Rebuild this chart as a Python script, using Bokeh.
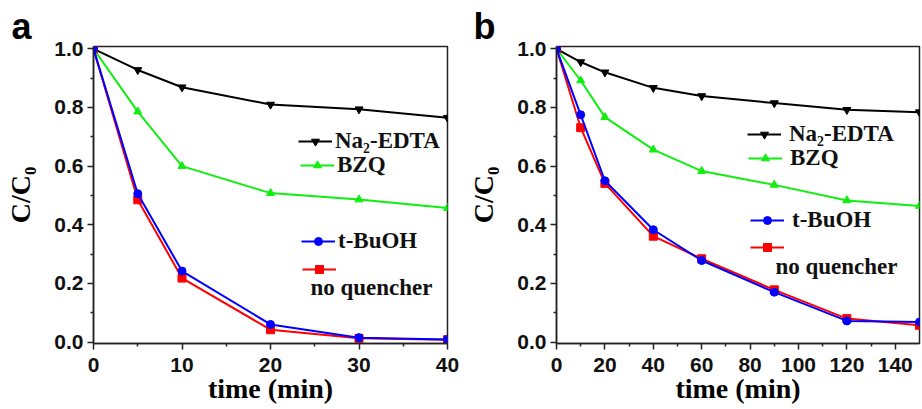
from bokeh.plotting import figure
from bokeh.layouts import row
from bokeh.models import Legend, LegendItem, Label, FixedTicker, PrintfTickFormatter, Range1d
from bokeh.embed import file_html
from bokeh.resources import INLINE

# ---------------- data ----------------
time_a = [0, 5, 10, 20, 30, 40]
edta_a = [1.0, 0.928, 0.869, 0.81, 0.794, 0.765]
bzq_a = [1.0, 0.786, 0.60, 0.508, 0.486, 0.457]
tbuoh_a = [1.0, 0.506, 0.242, 0.06, 0.015, 0.009]
noq_a = [1.0, 0.485, 0.218, 0.042, 0.0125, 0.008]

time_b = [0, 10, 20, 40, 60, 90, 120, 150]
edta_b = [1.0, 0.955, 0.92, 0.867, 0.839, 0.815, 0.792, 0.784]
bzq_b = [1.0, 0.892, 0.767, 0.656, 0.583, 0.536, 0.483, 0.464]
tbuoh_b = [1.0, 0.775, 0.55, 0.383, 0.278, 0.17, 0.072, 0.068]
noq_b = [1.0, 0.731, 0.541, 0.361, 0.284, 0.178, 0.08, 0.057]

series_names = ["Na\u2082-EDTA", "BZQ", "t-BuOH", "no quencher"]
series_colors = ["#000000", "#10ee10", "#0000ff", "#ff0000"]
series_markers = ["inverted_triangle", "triangle", "circle", "square"]

y_ticks = [0.0, 0.2, 0.4, 0.6, 0.8, 1.0]
y_minor = [0.1, 0.3, 0.5, 0.7, 0.9]
x_ticks_a = [0, 10, 20, 30, 40]
x_minor_a = [5, 15, 25, 35]
x_ticks_b = [0, 20, 40, 60, 80, 100, 120, 140]
x_minor_b = [10, 30, 50, 70, 90, 110, 130]

SERIF = "Liberation Serif"
SANS = "Liberation Sans"
FIG_H = 408


def make_panel(t, ys, xr, xticks, xminor, width, bl, br, letter,
               leg_xy, leg_standoff, noq_xy, letter_off):
    p = figure(width=width, height=FIG_H, x_range=Range1d(*xr),
               y_range=Range1d(-0.005, 1.008), output_backend="svg",
               toolbar_location=None, min_border_left=bl, min_border_right=br,
               min_border_top=46, min_border_bottom=65,
               background_fill_color="white", border_fill_color="white")
    p.title.text = letter
    p.title.align = "left"
    p.title.offset = letter_off
    p.title.standoff = 0
    p.title.text_font = SANS
    p.title.text_font_style = "bold"
    p.title.text_font_size = "36px"
    p.title.text_color = "#000000"

    p.xgrid.visible = False
    p.ygrid.visible = False
    p.outline_line_color = "#222222"
    p.outline_line_width = 1.5
    p.outline_line_alpha = 1.0

    p.xaxis.axis_label = "time (min)"
    p.yaxis.axis_label = "C/C\u2080"
    p.xaxis.ticker = FixedTicker(ticks=xticks, minor_ticks=xminor)
    p.yaxis.ticker = FixedTicker(ticks=y_ticks, minor_ticks=y_minor)
    p.yaxis.formatter = PrintfTickFormatter(format="%.1f")
    for ax in (p.xaxis[0], p.yaxis[0]):
        ax.axis_line_color = "#222222"
        ax.axis_line_width = 1.5
        ax.major_tick_in = 0
        ax.major_tick_out = 6
        ax.minor_tick_in = 0
        ax.minor_tick_out = 3
        ax.major_tick_line_width = 1.5
        ax.minor_tick_line_width = 1.5
        ax.major_tick_line_color = "#222222"
        ax.minor_tick_line_color = "#222222"
        ax.major_label_text_font = SANS
        ax.major_label_text_font_style = "bold"
        ax.major_label_text_font_size = "21px"
        ax.major_label_text_color = "#111111"
        ax.axis_label_text_font = SERIF
        ax.axis_label_text_font_style = "bold"
        ax.axis_label_text_font_size = "28px"
        ax.axis_label_text_color = "#000000"
    p.xaxis.major_label_standoff = 8
    p.xaxis.axis_label_standoff = -2
    p.yaxis.major_label_standoff = 4
    p.yaxis.axis_label_standoff = 15

    rmap = {}
    for i in [0, 1, 3, 2]:
        ln = p.line(t, ys[i], line_color=series_colors[i], line_width=2)
        sc = p.scatter(t, ys[i], marker=series_markers[i], size=8,
                       fill_color=series_colors[i], line_color=series_colors[i])
        rmap[i] = [ln, sc]

    common = dict(orientation="vertical", glyph_width=34, glyph_height=20,
                  label_height=20, label_standoff=leg_standoff, padding=0, margin=0,
                  spacing=0, border_line_alpha=0, background_fill_alpha=0,
                  label_text_font=SERIF, label_text_font_style="bold",
                  label_text_font_size="23px", label_text_color="#111111")
    labels = [series_names[0], series_names[1], series_names[2], " "]
    for i in range(4):
        leg = Legend(items=[LegendItem(label=labels[i], renderers=rmap[i])],
                     location=leg_xy[i], **common)
        p.add_layout(leg)
    p.add_layout(Label(x=noq_xy[0], y=noq_xy[1], x_units="screen", y_units="screen",
                       text=series_names[3], text_font=SERIF, text_font_style="bold",
                       text_font_size="23px", text_color="#111111",
                       text_baseline="alphabetic"))
    return p


pa = make_panel(time_a, [edta_a, bzq_a, tbuoh_a, noq_a], (0, 40), x_ticks_a, x_minor_a,
                460, 93, 13, "a",
                [(205, 189), (207, 165), (208, 89), (209, 64)], 3, (217, 56), -82)
pb = make_panel(time_b, [edta_b, bzq_b, tbuoh_b, noq_b], (0, 150), x_ticks_b, x_minor_b,
                461, 96, 2, "b",
                [(191, 196), (192, 172), (194, 110), (194, 86)], 8, (219, 77), -83)

layout = row(pa, pb)
open("out.html", "w").write(file_html(layout, INLINE, title="quencher"))
